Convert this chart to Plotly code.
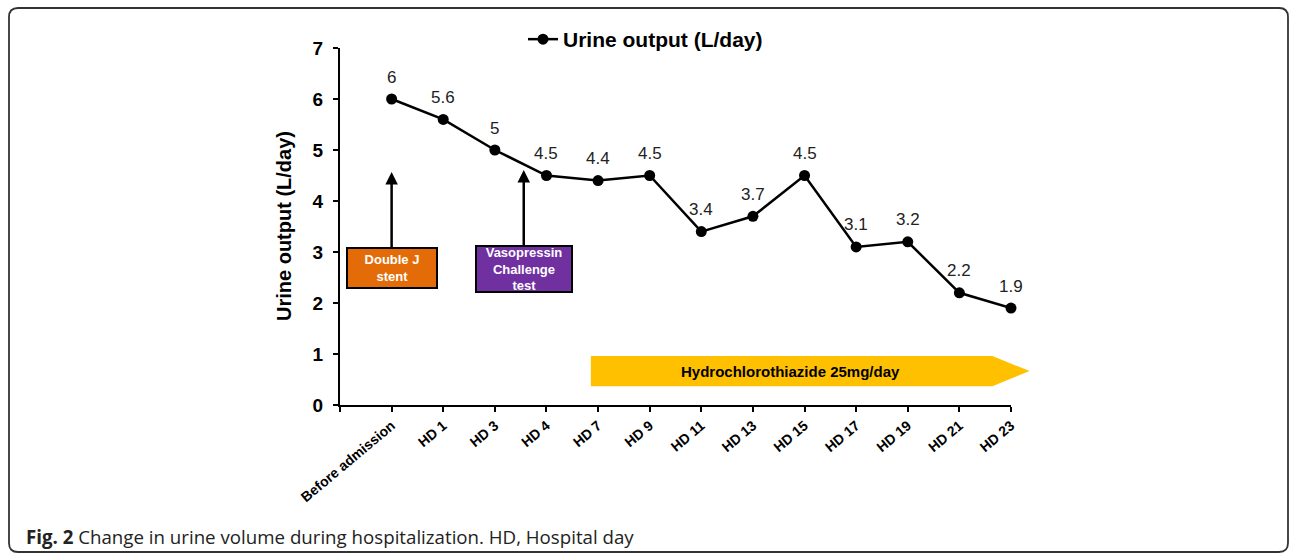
import plotly.graph_objects as go

categories = ["Before admission", "HD 1", "HD 3", "HD 4", "HD 7", "HD 9", "HD 11",
              "HD 13", "HD 15", "HD 17", "HD 19", "HD 21", "HD 23"]
urine_output = [6, 5.6, 5, 4.5, 4.4, 4.5, 3.4, 3.7, 4.5, 3.1, 3.2, 2.2, 1.9]
value_labels = ["6", "5.6", "5", "4.5", "4.4", "4.5", "3.4", "3.7", "4.5", "3.1", "3.2", "2.2", "1.9"]
y_ticks = [0, 1, 2, 3, 4, 5, 6, 7]
series_name = "<b>Urine output (L/day)</b>"

W, H = 1290, 553
ML, MR, MT, MB = 340, 279, 48, 148
PW, PH = W - ML - MR, H - MT - MB
XR = [-1, len(categories) - 1]
YR = [0, 7]
FONT = "Arial, Liberation Sans, sans-serif"

def px(x):
    return (x - ML) / PW

def py(y):
    return (H - MB - y) / PH

def dx(v):
    return (v - XR[0]) / (XR[1] - XR[0])

def dy(v):
    return (v - YR[0]) / (YR[1] - YR[0])

xs = list(range(len(categories)))

fig = go.Figure()
fig.add_trace(go.Scatter(
    x=xs, y=urine_output, mode="lines+markers", name=series_name,
    line=dict(color="black", width=2.5),
    marker=dict(color="black", size=11),
    cliponaxis=False,
))

annotations = []
for x, v, t in zip(xs, urine_output, value_labels):
    annotations.append(dict(x=x, y=v, text=t, showarrow=False, yshift=22,
                            font=dict(family=FONT, size=17, color="#222")))

# event boxes with arrows
annotations.append(dict(
    x=0, y=4.57, ax=0, ay=96, text="<b>Double J<br>stent</b>",
    showarrow=True, arrowhead=2, arrowsize=1.0, arrowwidth=2.5, arrowcolor="black",
    bgcolor="#E36C09", bordercolor="black", borderwidth=2, borderpad=1,
    width=86, height=36, font=dict(family=FONT, size=13, color="white"),
))
annotations.append(dict(
    x=2.56, y=4.61, ax=0, ay=99, text="<b>Vasopressin<br>Challenge<br>test</b>",
    showarrow=True, arrowhead=2, arrowsize=1.0, arrowwidth=2.5, arrowcolor="black",
    bgcolor="#7030A0", bordercolor="black", borderwidth=2, borderpad=1,
    width=92, height=42, font=dict(family=FONT, size=13, color="white"),
))

# hydrochlorothiazide arrow (data coords converted to paper)
hx0, hx1, hxt = 3.86, 11.64, 12.36
hy0, hy1 = 0.37, 0.96
hym = (hy0 + hy1) / 2
hpath = (f"M {dx(hx0)},{dy(hy0)} L {dx(hx1)},{dy(hy0)} L {dx(hxt)},{dy(hym)} "
         f"L {dx(hx1)},{dy(hy1)} L {dx(hx0)},{dy(hy1)} Z")
annotations.append(dict(
    x=7.73, y=hym, text="<b>Hydrochlorothiazide 25mg/day</b>", showarrow=False,
    font=dict(family=FONT, size=15, color="black"),
))

# y-axis title
annotations.append(dict(
    xref="paper", yref="paper", x=px(284), y=py(226), xanchor="center", yanchor="middle",
    text="<b>Urine output (L/day)</b>",
    textangle=-90, showarrow=False, font=dict(family=FONT, size=20, color="black"),
))

# caption
annotations.append(dict(
    xref="paper", yref="paper", x=px(24), y=py(536), xanchor="left", yanchor="middle",
    text="<b>Fig. 2</b> Change in urine volume during hospitalization. HD, Hospital day",
    showarrow=False, font=dict(family="Open Sans, sans-serif", size=18.7, color="#222"),
))

# rounded border
L, R, T, B, r = 9, 1288, 8, 552, 9
bpath = (f"M {px(L)},{py(T + r)} Q {px(L)},{py(T)} {px(L + r)},{py(T)} "
         f"L {px(R - r)},{py(T)} Q {px(R)},{py(T)} {px(R)},{py(T + r)} "
         f"L {px(R)},{py(B - r)} Q {px(R)},{py(B)} {px(R - r)},{py(B)} "
         f"L {px(L + r)},{py(B)} Q {px(L)},{py(B)} {px(L)},{py(B - r)} Z")

fig.update_layout(
    width=W, height=H,
    margin=dict(l=ML, r=MR, t=MT, b=MB, autoexpand=False),
    plot_bgcolor="white", paper_bgcolor="white",
    showlegend=True,
    legend=dict(orientation="h", x=px(523), y=py(19), xanchor="left", yanchor="top",
                font=dict(family=FONT, size=21, color="black"), bgcolor="rgba(0,0,0,0)",
                itemwidth=30),
    annotations=annotations,
    shapes=[
        dict(type="path", path=hpath, xref="paper", yref="paper",
             fillcolor="#FFC000", line=dict(width=0), layer="below"),
        dict(type="path", path=bpath, xref="paper", yref="paper",
             fillcolor="rgba(0,0,0,0)", line=dict(color="#333", width=1.8)),
    ],
    xaxis=dict(
        range=XR, tickmode="array", tickvals=[-1] + xs, ticktext=[""] + categories,
        tickangle=-40, ticks="outside", ticklen=5, tickwidth=2, tickcolor="black",
        showline=True, linecolor="black", linewidth=2, showgrid=False, zeroline=False,
        tickfont=dict(family=FONT, size=14, color="black", weight="bold"),
    ),
    yaxis=dict(
        range=YR, tickvals=y_ticks, ticks="outside", ticklen=5, tickwidth=2,
        tickcolor="black", showline=True, linecolor="black", linewidth=2,
        showgrid=False, zeroline=False, ticklabelstandoff=6,
        tickfont=dict(family=FONT, size=19, color="black", weight="bold"),
    ),
)

fig.write_html("out.html", config={"displayModeBar": False},
               post_script="document.body.style.margin='0';document.body.style.overflow='hidden';")
